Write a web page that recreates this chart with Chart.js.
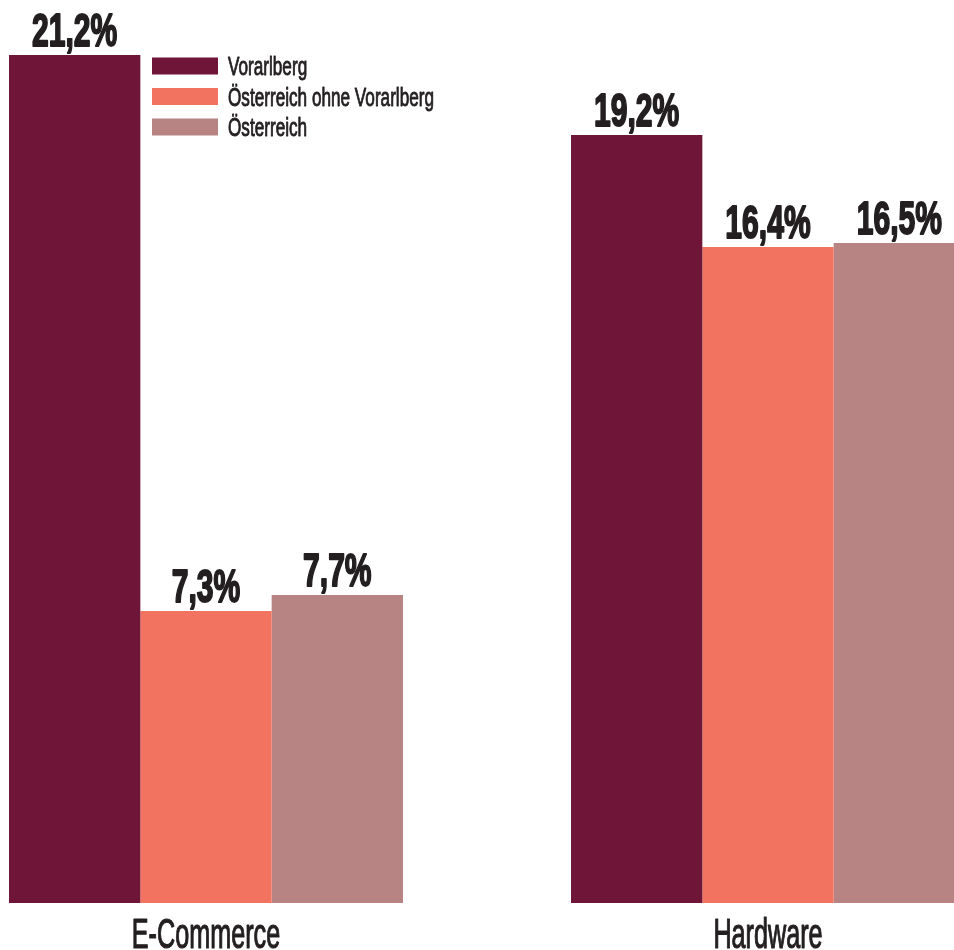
<!DOCTYPE html>
<html>
<head>
<meta charset="utf-8">
<script src="https://cdn.jsdelivr.net/npm/chart.js@4/dist/chart.umd.min.js"></script>
<style>
  html, body { margin:0; padding:0; background:#fff; overflow:hidden; }
  body { width:954px; height:950px; position:relative; }
  #wrap { position:absolute; left:-75px; top:0; width:1124px; height:950px; }
</style>
</head>
<body>
<div id="wrap"><canvas id="chart" width="1124" height="950"></canvas></div>
<script>
const categories = ["E-Commerce", "Hardware"];
const seriesNames = ["Vorarlberg", "Österreich ohne Vorarlberg", "Österreich"];
const vorarlberg = [21.2, 19.2];
const oesterreichOhne = [7.3, 16.4];
const oesterreich = [7.7, 16.5];
const colors = ["#6e1538", "#f37361", "#b88383"];

const FONT = "'Liberation Sans', Arial, sans-serif";
const INK = "#231f20";

// condensed text: squeeze horizontally around the anchor point,
// optional stroke to make the glyphs heavier
function squeezeText(ctx, txt, x, y, sx, align, weight) {
    ctx.save();
    ctx.translate(x, y);
    ctx.scale(sx, 1);
    ctx.textAlign = align;
    ctx.fillText(txt, 0, 0);
    if (weight) {
        ctx.lineWidth = weight;
        ctx.lineJoin = 'round';
        ctx.strokeStyle = INK;
        ctx.strokeText(txt, 0, 0);
    }
    ctx.restore();
}

const labelsPlugin = {
    id:'labels',
    afterDatasetsDraw(chart){
        const ctx = chart.ctx;
        ctx.save();
        ctx.fillStyle = INK;
        ctx.textBaseline = 'alphabetic';

        // value labels above bars
        ctx.font = "bold 47px " + FONT;
        chart.data.datasets.forEach((ds, i)=>{
            chart.getDatasetMeta(i).data.forEach((bar, j)=>{
                const txt = ds.data[j].toFixed(1).replace('.', ',') + '%';
                squeezeText(ctx, txt, bar.x, bar.y - 9, 0.64, 'center', 2);
            });
        });

        // category labels under the groups
        const xs = chart.scales.x;
        ctx.font = "42px " + FONT;
        categories.forEach((c, i)=>{
            squeezeText(ctx, c, xs.getPixelForValue(i), 948, 0.6, 'center', 1.2);
        });

        // legend
        ctx.font = "26px " + FONT;
        chart.data.datasets.forEach((ds, i)=>{
            const cy = 66 + i * 30.5;
            ctx.fillStyle = ds.backgroundColor;
            ctx.fillRect(227, cy - 8.5, 66, 17);
            ctx.fillStyle = INK;
            squeezeText(ctx, ds.label, 303, cy + 9, 0.66, 'left', 0.9);
        });
        ctx.restore();
    }
};

new Chart(document.getElementById('chart'), {
    type:'bar',
    data:{
        labels:categories,
        datasets:[
            {label:seriesNames[0], data:vorarlberg, backgroundColor:colors[0]},
            {label:seriesNames[1], data:oesterreichOhne, backgroundColor:colors[1]},
            {label:seriesNames[2], data:oesterreich, backgroundColor:colors[2]}
        ]
    },
    options:{
        responsive:false,
        animation:false,
        devicePixelRatio:1,
        layout:{ padding:{top:3, bottom:47, left:0, right:0} },
        datasets:{ bar:{ categoryPercentage:0.701, barPercentage:1.0, borderWidth:0 } },
        scales:{
            x:{ display:false },
            y:{ display:false, min:0, max:22.5 }
        },
        plugins:{
            legend:{ display:false },
            tooltip:{ enabled:false }
        }
    },
    plugins:[labelsPlugin]
});
</script>
</body>
</html>
